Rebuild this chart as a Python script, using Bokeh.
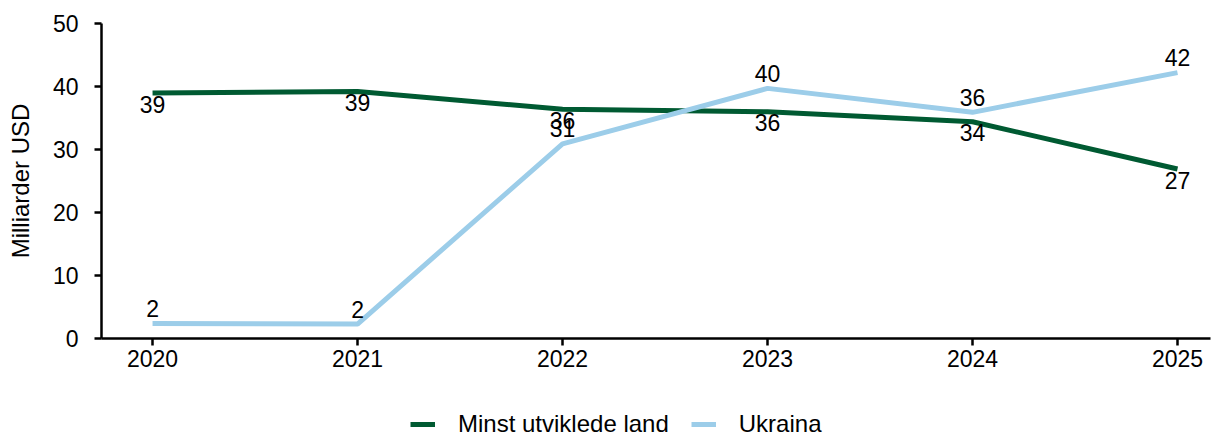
from bokeh.plotting import figure
from bokeh.layouts import column
from bokeh.models import Range1d, Legend, LegendItem, FixedTicker
from bokeh.core.properties import value
from bokeh.embed import file_html
from bokeh.resources import INLINE

years = [2020, 2021, 2022, 2023, 2024, 2025]
mul_values = [38.95, 39.2, 36.4, 36.0, 34.4, 26.9]
ukr_values = [2.4, 2.3, 30.9, 39.7, 35.9, 42.2]
series_names = ["Minst utviklede land", "Ukraina"]
y_ticks = [0, 10, 20, 30, 40, 50]
y_label = "Milliarder USD"

GREEN = "#005a32"
BLUE = "#9ccde9"
FONT = "Liberation Sans"
FS = "23px"

p = figure(width=1212, height=383, output_backend="svg", toolbar_location=None,
           x_range=Range1d(2019.751, 2025.161), y_range=Range1d(0, 50),
           min_border_left=101, min_border_right=2, min_border_top=23, min_border_bottom=45)
p.outline_line_color = None
p.xgrid.visible = False
p.ygrid.visible = False

r1 = p.line(years, mul_values, line_color=GREEN, line_width=5)
r2 = p.line(years, ukr_values, line_color=BLUE, line_width=5)

p.text(years, mul_values, text=[f"{v:.0f}" for v in mul_values],
       text_align="center", text_baseline="alphabetic", y_offset=11,
       text_font=value(FONT), text_font_size=FS, text_color="black")
p.text(years, ukr_values, text=[f"{v:.0f}" for v in ukr_values],
       text_align="center", text_baseline="alphabetic", y_offset=-15,
       text_font=value(FONT), text_font_size=FS, text_color="black")

for ax in (p.xaxis[0], p.yaxis[0]):
    ax.axis_line_width = 2.5
    ax.axis_line_color = "black"
    ax.major_tick_line_width = 2.5
    ax.major_tick_line_color = "black"
    ax.major_tick_out = 7
    ax.major_tick_in = 0
    ax.minor_tick_line_color = None
    ax.major_label_text_font = FONT
    ax.major_label_text_font_size = FS
    ax.major_label_text_color = "black"

p.xaxis.ticker = FixedTicker(ticks=years)
p.xaxis.major_label_standoff = 4
p.yaxis.ticker = FixedTicker(ticks=y_ticks)
p.yaxis.major_label_standoff = 16
p.yaxis.axis_label = y_label
p.yaxis.axis_label_text_font = FONT
p.yaxis.axis_label_text_font_size = "24px"
p.yaxis.axis_label_text_font_style = "normal"
p.yaxis.axis_label_text_color = "black"
p.yaxis.axis_label_standoff = 16

# legend strip below the chart (frame is aligned with the chart's frame)
pl = figure(width=1212, height=53, output_backend="svg", toolbar_location=None,
            x_range=Range1d(0, 1), y_range=Range1d(0, 1),
            min_border_left=0, min_border_right=0, min_border_top=0, min_border_bottom=0)
pl.axis.visible = False
pl.grid.visible = False
pl.outline_line_color = None
l1 = pl.line([5, 6], [5, 6], line_color=GREEN, line_width=5)
l2 = pl.line([5, 6], [5, 6], line_color=BLUE, line_width=5)
legend = Legend(items=[LegendItem(label=series_names[0], renderers=[l1]),
                       LegendItem(label=series_names[1], renderers=[l2])],
                orientation="horizontal", location=(309, -2),
                glyph_width=25, label_standoff=23, spacing=22, padding=0, margin=0,
                label_text_font=FONT, label_text_font_size="24px", label_text_color="black",
                border_line_color=None, background_fill_alpha=0)
pl.add_layout(legend)

open("out.html", "w").write(file_html(column(p, pl, spacing=0), INLINE))
